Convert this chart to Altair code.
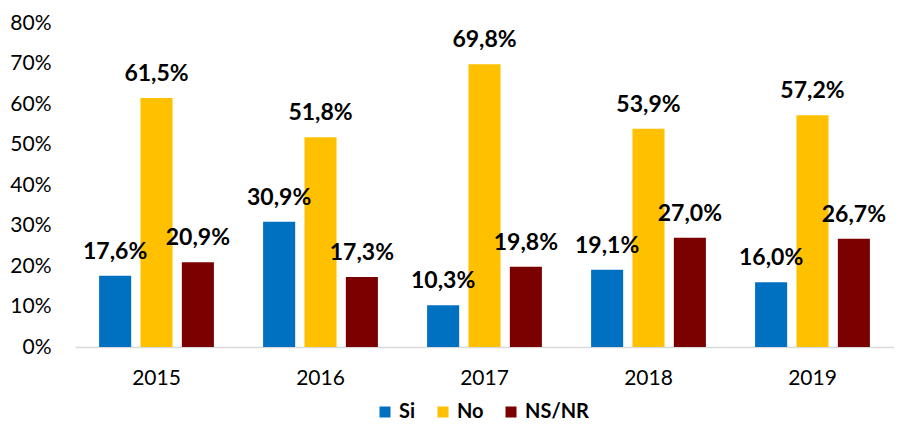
import altair as alt
import pandas as pd

years = ["2015", "2016", "2017", "2018", "2019"]
series = ["Si", "No", "NS/NR"]
si = [17.6, 30.9, 10.3, 19.1, 16.0]
no = [61.5, 51.8, 69.8, 53.9, 57.2]
nsnr = [20.9, 17.3, 19.8, 27.0, 26.7]
colors = ["#0070C0", "#FFC000", "#7B0000"]

rows = []
for i, y in enumerate(years):
    for s, vals in zip(series, [si, no, nsnr]):
        v = vals[i]
        rows.append({"year": y, "serie": s, "value": v / 100.0,
                     "label": f"{v:.1f}%".replace(".", ",")})
df = pd.DataFrame(rows)

FONT = "Lato"

x = alt.X("year:N", title=None,
          scale=alt.Scale(paddingInner=0.3, paddingOuter=0.147),
          axis=alt.Axis(labelAngle=0, labelFontSize=21, labelFont=FONT, labelColor="#000",
                        ticks=False, domainColor="#d9d9d9", domainWidth=1.5, labelPadding=20))
xo = alt.XOffset("serie:N", sort=series, scale=alt.Scale(paddingInner=0.225, paddingOuter=0))
y = alt.Y("value:Q", title=None,
          scale=alt.Scale(domain=[0, 0.8]),
          axis=alt.Axis(format=".0%", values=[0, .1, .2, .3, .4, .5, .6, .7, .8],
                        labelFontSize=21, labelFont=FONT, labelColor="#000",
                        ticks=False, domain=False, grid=False, labelPadding=24))
color = alt.Color("serie:N", sort=series,
                  scale=alt.Scale(domain=series, range=colors),
                  legend=alt.Legend(title=None, orient="none", direction="horizontal",
                                    legendX=300, legendY=379,
                                    symbolType="square", symbolSize=121, symbolStrokeWidth=0,
                                    labelFont=FONT, labelFontSize=20, labelFontWeight="bold",
                                    labelColor="#000", columnPadding=17, labelOffset=4))

base = alt.Chart(df).encode(x=x, xOffset=xo, y=y)
bars = base.mark_bar().encode(color=color)
text = base.mark_text(font=FONT, fontSize=23, fontWeight="bold", baseline="alphabetic",
                      dy=-17, color="#000").encode(text="label:N")

chart = (bars + text).properties(
    width=819, height=324,
    autosize=alt.AutoSizeParams(type="none"),
    padding={"top": 15, "left": 67, "right": 0, "bottom": 78},
).configure_view(stroke=None)

chart.save("out.html", embed_options={"renderer": "svg", "actions": False})
